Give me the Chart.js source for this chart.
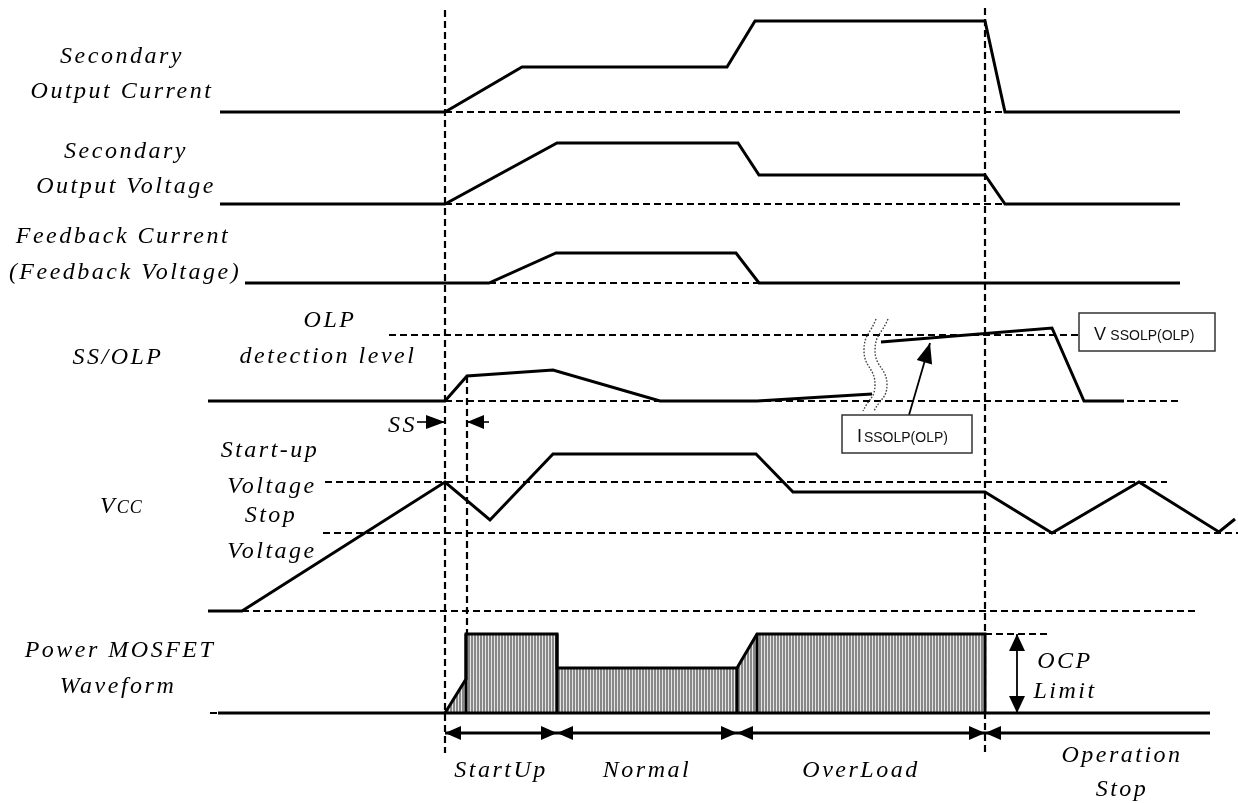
<!DOCTYPE html>
<html>
<head>
<meta charset="utf-8">
<script src="https://cdn.jsdelivr.net/npm/chart.js@4/dist/chart.umd.min.js"></script>
<style>
html, body { margin: 0; padding: 0; background: #fff; }
#wrap { width: 1238px; height: 803px; }
</style>
</head>
<body>
<div id="wrap"><canvas id="timing"></canvas></div>
<script>
// Time positions (horizontal units) and levels (vertical units)

// vertical markers
const markerT = [445, 467, 985];
const markerTop = [10, 376, 8];
const markerBottom = [753, 634, 752];

// horizontal dashed reference levels
const guideFrom  = [445, 445, 445, 389, 445, 325, 323, 242, 210, 985];
const guideTo    = [1180, 1180, 1180, 1078, 1178, 1167, 1238, 1197, 1210, 1049];
const guideLevel = [112, 204, 283, 335, 401, 482, 533, 611, 713, 634];

// Secondary Output Current
const curT = [220, 445, 522, 727, 755, 985, 1005, 1180];
const curY = [112, 112, 67, 67, 21, 21, 112, 112];

// Secondary Output Voltage
const voltT = [220, 445, 557, 738, 759, 985, 1005, 1180];
const voltY = [204, 204, 143, 143, 175, 175, 204, 204];

// Feedback Current
const fbT = [245, 489, 556, 736, 759, 1180];
const fbY = [283, 283, 253, 253, 283, 283];

// SS/OLP (before and after the time break)
const ssT  = [208, 445, 467, 553, 660, 757, 872];
const ssY  = [401, 401, 376, 370, 401, 401, 394];
const ss2T = [881, 1052, 1084, 1124];
const ss2Y = [342, 328, 401, 401];

// time-break squiggles
const breakAT = [876, 864, 875, 863];
const breakBT = [888, 875, 887, 874];
const breakY  = [319, 350, 385, 411];

// Vcc
const vccT = [208, 242, 445, 490, 553, 756, 793, 985, 1052, 1139, 1219, 1235];
const vccY = [611, 611, 482, 520, 454, 454, 492, 492, 533, 482, 532, 519];

// Power MOSFET envelope
const mosT = [445, 466, 466, 557, 557, 737, 757, 985, 985];
const mosY = [713, 679, 634, 634, 668, 668, 634, 634, 713];
const mosBaseT = [218, 1210];
const mosBase = 713;
const mosEdgeT = [466, 557, 737, 757];
const mosEdgeTop = [634, 634, 668, 634];

// operating phases
const phaseT = [445, 557, 737, 985, 1210];
const phaseNames = ['StartUp', 'Normal', 'OverLoad', 'Operation\nStop'];
const phaseLabelT = [501, 647, 861, 1122];

const zip = (ts, ys) => ts.map((t, i) => ({ x: t, y: ys[i] }));

// hatch pattern for the MOSFET envelope
function hatch() {
    const c = document.createElement('canvas');
    c.width = 3; c.height = 4;
    const g = c.getContext('2d');
    g.fillStyle = '#888888';
    g.fillRect(0, 0, 2, 4);
    g.fillStyle = '#e6e6e6';
    g.fillRect(2, 0, 1, 4);
    return g.createPattern(c, 'repeat');
}

const datasets = [];

guideLevel.forEach((lv, i) => {
    datasets.push({ data: [{ x: guideFrom[i], y: lv }, { x: guideTo[i], y: lv }],
        borderDash: [7, 4], borderWidth: 2.2, order: 5 });
});
markerT.forEach((t, i) => {
    datasets.push({ data: [{ x: t, y: markerTop[i] }, { x: t, y: markerBottom[i] }],
        borderDash: [7, 4], borderWidth: 2.2, order: 5 });
});

[[curT, curY], [voltT, voltY], [fbT, fbY], [ssT, ssY], [ss2T, ss2Y], [vccT, vccY]].forEach(([t, y]) => {
    datasets.push({ data: zip(t, y), borderWidth: 3, order: 1 });
});

datasets.push({ data: zip(mosBaseT, [mosBase, mosBase]), borderWidth: 3, order: 1 });
datasets.push({ data: zip(mosT, mosY), borderWidth: 3, order: 2,
    fill: { value: mosBase }, backgroundColor: hatch() });
const edges = [];
mosEdgeT.forEach((t, i) => {
    edges.push({ x: t, y: mosEdgeTop[i] }, { x: t, y: mosBase }, { x: t, y: null });
});
datasets.push({ data: edges, borderWidth: 3, order: 1, spanGaps: false });

[breakAT, breakBT].forEach(t => {
    datasets.push({ data: zip(t, breakY), borderWidth: 1.4, borderColor: '#444',
        borderDash: [1.6, 1.6], tension: 0.5, order: 1 });
});

const serif = 'italic 24px "Liberation Serif"';
const labels = [
    { text: 'Secondary', x: 122, y: 63 },
    { text: 'Output Current', x: 122, y: 98 },
    { text: 'Secondary', x: 126, y: 158 },
    { text: 'Output Voltage', x: 126, y: 193 },
    { text: 'Feedback Current', x: 123, y: 243 },
    { text: '(Feedback Voltage)', x: 125, y: 279 },
    { text: 'SS/OLP', x: 118, y: 364 },
    { text: 'OLP', x: 330, y: 327 },
    { text: 'detection level', x: 328, y: 363 },
    { text: 'SS', x: 417, y: 432, align: 'right' },
    { text: 'Start-up', x: 270, y: 457 },
    { text: 'Voltage', x: 272, y: 493 },
    { text: 'Stop', x: 271, y: 522 },
    { text: 'Voltage', x: 272, y: 558 },
    { text: 'Power MOSFET', x: 120, y: 657 },
    { text: 'Waveform', x: 118, y: 693 },
    { text: 'OCP', x: 1065, y: 668 },
    { text: 'Limit', x: 1065, y: 698 }
];

function head(ctx, x, y, ang, len, half) {
    ctx.beginPath();
    ctx.moveTo(x, y);
    ctx.lineTo(x - len * Math.cos(ang) + half * Math.sin(ang), y - len * Math.sin(ang) - half * Math.cos(ang));
    ctx.lineTo(x - len * Math.cos(ang) - half * Math.sin(ang), y - len * Math.sin(ang) + half * Math.cos(ang));
    ctx.closePath();
    ctx.fill();
}

function arrow(ctx, x1, y1, x2, y2, width, len, half, both) {
    const ang = Math.atan2(y2 - y1, x2 - x1);
    ctx.lineWidth = width;
    ctx.beginPath();
    ctx.moveTo(x1, y1);
    ctx.lineTo(x2, y2);
    ctx.stroke();
    head(ctx, x2, y2, ang, len, half);
    if (both) head(ctx, x1, y1, ang + Math.PI, len, half);
}

function tagBox(ctx, X, Y, x1, y1, x2, y2, sym, sub) {
    ctx.lineWidth = 1.5;
    ctx.strokeStyle = '#333';
    ctx.strokeRect(X(x1), Y(y1), X(x2) - X(x1), Y(y2) - Y(y1));
    ctx.letterSpacing = '0px';
    ctx.textAlign = 'left';
    ctx.fillStyle = '#111';
    ctx.font = '18px "Liberation Sans"';
    const bx = X(x1) + 15, by = Y(y2) - 11;
    ctx.fillText(sym, bx, by);
    ctx.font = '14px "Liberation Sans"';
    ctx.fillText(sub, bx + ctx.measureText(sym).width + 3 + (sym === 'V' ? 4 : 0), by);
}

const overlay = {
    id: 'overlay',
    afterDatasetsDraw(chart) {
        const ctx = chart.ctx;
        const X = v => chart.scales.x.getPixelForValue(v);
        const Y = v => chart.scales.y.getPixelForValue(v);
        ctx.save();
        ctx.fillStyle = '#000';
        ctx.strokeStyle = '#000';
        ctx.textBaseline = 'alphabetic';
        ctx.font = serif;
        ctx.letterSpacing = '2.5px';
        labels.forEach(l => {
            ctx.textAlign = l.align || 'center';
            ctx.fillText(l.text, X(l.x), Y(l.y));
        });

        // Vcc with small-cap subscript
        ctx.textAlign = 'left';
        ctx.letterSpacing = '1px';
        ctx.font = serif;
        const vw = ctx.measureText('V').width;
        ctx.fillText('V', X(100), Y(513));
        ctx.font = 'italic 18px "Liberation Serif"';
        ctx.fillText('CC', X(100) + vw + 1, Y(513));

        // phase labels and arrows
        ctx.font = serif;
        ctx.letterSpacing = '2.5px';
        ctx.textAlign = 'center';
        phaseNames.forEach((name, i) => {
            const lines = name.split('\n');
            const base = lines.length > 1 ? 762 : 777;
            lines.forEach((ln, k) => ctx.fillText(ln, X(phaseLabelT[i]), Y(base + k * 34)));
        });
        const rowY = Y(733);
        for (let i = 0; i < phaseT.length - 1; i++) {
            const last = i === phaseT.length - 2;
            if (last) {
                arrow(ctx, X(phaseT[i + 1]), rowY, X(phaseT[i]), rowY, 2.8, 16, 7, false);
            } else {
                arrow(ctx, X(phaseT[i]), rowY, X(phaseT[i + 1]), rowY, 2.8, 16, 7, true);
            }
        }

        // SS interval arrows
        arrow(ctx, X(417), Y(422), X(markerT[0]), Y(422), 1.6, 19, 7, false);
        arrow(ctx, X(489), Y(422), X(markerT[1]), Y(422), 1.6, 17, 7, false);

        // OCP limit arrow
        arrow(ctx, X(1017), Y(634), X(1017), Y(mosBase), 1.8, 17, 8, true);

        // I SSOLP(OLP) pointer
        arrow(ctx, X(909), Y(415), X(930), Y(343), 1.8, 20, 8, false);

        tagBox(ctx, X, Y, 842, 415, 972, 453, 'I', 'SSOLP(OLP)');
        tagBox(ctx, X, Y, 1079, 313, 1215, 351, 'V', 'SSOLP(OLP)');
        ctx.restore();
    }
};

new Chart(document.getElementById('timing'), {
    type: 'scatter',
    data: { datasets: datasets.map(d => Object.assign({
        showLine: true, pointRadius: 0, borderColor: '#000', fill: false, tension: 0
    }, d)) },
    options: {
        responsive: true,
        maintainAspectRatio: false,
        animation: false,
        layout: { padding: 0 },
        plugins: { legend: { display: false }, tooltip: { enabled: false } },
        scales: {
            x: { type: 'linear', min: 0, max: 1238, display: false },
            y: { type: 'linear', min: 0, max: 803, reverse: true, display: false }
        }
    },
    plugins: [overlay]
});
</script>
</body>
</html>
